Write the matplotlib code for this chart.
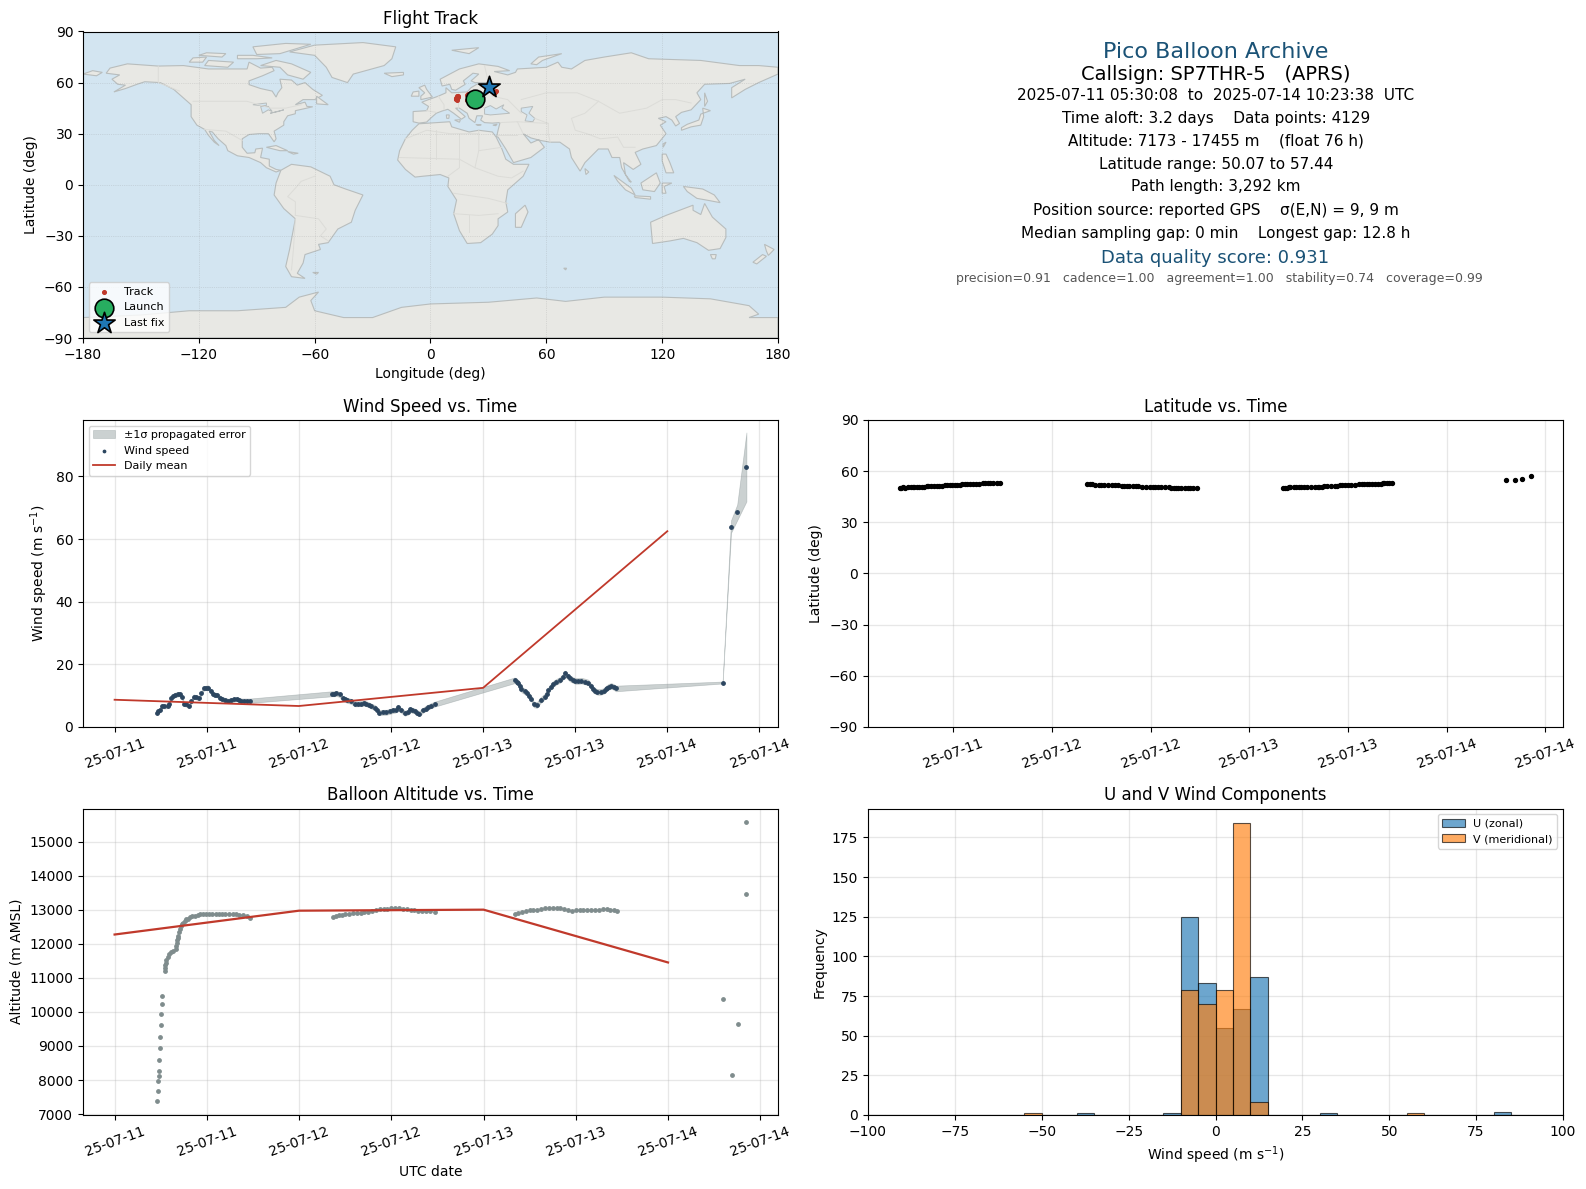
import numpy as np
import pandas as pd
import matplotlib
matplotlib.use("Agg")
import matplotlib.pyplot as plt
import matplotlib.dates as mdates
from matplotlib.patches import Polygon

W, H = 1586, 1189
START = pd.Timestamp("2025-07-11 00:00:00")

# hours since 07-11 00:00
seg1_t = [5.5,5.7,5.9,6.2,6.5,6.9,7.1,7.3,7.6,7.9,8.2,8.5,8.8,9.0,9.3,9.7,10.0,10.3,10.6,11.0,
          11.3,11.6,11.9,12.2,12.5,12.8,13.1,13.4,13.7,14.0,14.4,14.8,15.2,15.6,15.9,16.2,16.5,16.9,17.3,17.7]
seg1_ws = [4.5,5.0,5.4,6.7,6.6,6.7,7.4,9.1,9.8,10.3,10.4,10.5,9.5,7.4,7.2,6.7,8.2,9.7,9.5,9.2,
           10.8,12.3,12.5,12.6,11.5,10.5,10.3,10.1,9.4,8.9,8.6,8.3,8.5,8.8,8.9,8.6,8.4,8.4,8.4,8.4]
seg1_lat = [50.4,50.4,50.5,50.4,50.5,50.6,50.6,50.7,50.8,50.9,51.0,50.9,51.1,51.2,51.2,51.4,51.4,51.3,51.5,51.6,
            51.7,51.8,51.7,51.9,52.0,52.1,52.2,52.2,52.4,52.5,52.6,52.6,52.7,52.8,52.8,52.8,52.9,52.9,52.9,52.9]

seg2_t = [28.3,28.6,28.9,29.3,29.7,30.0,30.3,30.8,31.3,31.7,32.1,32.5,32.8,33.1,33.4,33.9,34.2,34.5,35.0,35.4,
          35.9,36.3,36.6,36.9,37.3,37.8,38.2,38.5,38.8,39.1,39.4,39.7,40.2,40.5,40.8,41.2,41.7]
seg2_ws = [10.6,10.6,10.7,10.4,9.1,8.8,8.5,8.2,7.4,7.4,7.5,7.6,7.4,7.1,6.7,6.2,5.5,4.6,4.7,4.7,
           5.0,5.3,5.4,6.3,5.4,4.4,4.7,5.6,5.3,5.1,4.6,4.3,5.4,5.9,6.3,6.8,7.3]
seg2_lat = [52.4,52.3,52.2,52.0,52.0,51.9,51.8,51.8,51.7,51.6,51.6,51.5,51.5,51.4,51.3,51.2,51.2,51.1,51.0,51.0,
            50.9,50.9,50.8,50.8,50.6,50.6,50.5,50.4,50.4,50.3,50.3,50.2,50.2,50.1,50.1,50.1,50.1]

seg3_t = [52.1,52.4,52.6,52.8,53.0,53.4,53.7,54.0,54.3,54.6,55.0,55.5,56.0,56.3,56.5,56.8,57.1,57.5,58.0,58.4,
          58.7,59.0,59.3,59.7,60.0,60.4,60.8,61.3,61.7,62.0,62.3,62.6,62.9,63.3,63.7,64.0,64.2,64.4,64.7,65.0,65.3]
seg3_ws = [14.9,14.5,14.0,13.0,12.0,11.4,10.9,10.0,9.0,7.2,7.0,8.6,9.7,10.6,11.8,12.8,13.7,14.4,15.0,16.0,
           17.1,16.2,15.5,15.0,14.7,14.7,14.8,14.5,14.2,13.2,12.0,11.5,11.2,11.2,11.5,12.2,12.6,12.9,13.1,12.8,12.3]
seg3_lat = [50.2,50.3,50.4,50.5,50.5,50.5,50.6,50.6,50.6,50.6,50.7,50.7,50.7,50.8,50.9,51.0,51.1,51.1,51.2,51.4,
            51.5,51.6,51.8,51.8,51.9,51.9,52.0,52.2,52.2,52.3,52.4,52.4,52.5,52.6,52.7,52.7,52.8,52.9,53.0,53.0,53.1]

end_t = [79.2,80.3,81.1,82.3]
end_ws = [14.2,64.0,68.5,83.0]
end_lat = [54.8,55.0,55.6,57.44]

# one sigma for each stretch
seg1_err = 0.7
seg2_err = 0.8
seg3_err = 0.9
end_err = [0.3,2.0,2.5,11.0]

# altitude panel has its own samples
alt_t = [5.48,5.6,5.6,5.74,5.74,5.74,5.87,5.87,6.0,6.0,6.13,6.13,
         6.5,6.55,6.6,6.65,6.75,6.9,7.1,7.3,7.6,7.96,8.0,8.1,8.15,8.2,8.26,8.35,8.5,8.6,8.75,8.87,9.1,9.3,9.5,9.8,10.1,10.4,
         10.8,11.1,11.5,11.9,12.3,12.7,13.2,13.6,14.0,14.4,14.9,15.4,15.8,16.2,16.7,17.2,17.65,
         28.4,28.8,29.2,29.6,30.0,30.5,31.0,31.5,32.0,32.5,33.0,33.5,34.0,34.5,35.0,35.5,36.0,36.5,37.0,37.5,38.0,38.5,39.0,39.5,40.0,40.5,41.0,41.7,
         52.1,52.5,53.0,53.5,54.0,54.5,55.0,55.5,56.0,56.5,57.0,57.5,58.0,58.5,59.0,59.5,60.0,60.5,61.0,61.5,62.0,62.5,63.0,63.5,64.0,64.5,65.0,65.3,
         79.2,80.3,81.1,82.2,82.1]
alt_m = [7382,7676,7970,8118,8265,8588,8941,9265,9618,9941,10235,10470,
         11206,11300,11370,11441,11530,11618,11690,11745,11800,11853,11930,12030,12110,12170,12225,12330,12441,12520,12580,12618,12680,12715,12735,12780,12800,12814,
         12850,12865,12873,12880,12860,12870,12873,12880,12860,12870,12880,12873,12860,12850,12833,12800,12765,
         12775,12800,12830,12850,12870,12880,12900,12900,12910,12920,12930,12950,12990,13010,13020,13030,13040,13040,13040,13030,13010,13000,12990,12970,12960,12950,12950,12940,
         12870,12890,12920,12950,12980,12990,12990,13020,13040,13050,13060,13050,13050,13030,13000,12970,12980,12990,13000,12990,12990,13000,13000,13010,13010,13000,12980,12960,
         10380,8150,9650,13460,15560]

# daily means sit on the midnight ticks
mean_t = [0,24,48,72]
mean_ws = [8.7,6.7,12.5,62.5]
mean_alt = [12270,12970,13000,11450]

# 5 m/s bins
bin_edges = list(range(-100,105,5))
u_counts = {-40:1,-15:1,-10:125,-5:83,0:55,5:67,10:87,30:1,80:2}
v_counts = {-55:1,-10:79,-5:70,0:79,5:184,10:8,55:1}

track_lon = [13.0,13.4,13.8,14.0,14.2,13.6,13.2,13.5,19.0,19.0,19.4,20.2,33.4,33.0,33.8]
track_lat = [50.2,50.6,51.1,51.6,52.1,52.3,51.0,50.0,53.0,49.6,53.3,52.8,54.5,54.0,55.0]
launch_lon, launch_lat = 23.0, 50.1
last_lon, last_lat = 30.5, 57.44

land = [
    # North America
    [(-168,65.5),(-166,68.5),(-157,71),(-141,69.7),(-128,70),(-115,68),(-108,68),(-95,68),(-94,72),(-88,68.5),(-82,69),(-81,67),(-87,64),(-94,61),(-94,58.8),(-88,56.5),(-82,55),(-80,51.5),(-79,54),(-77,57),(-78,62),(-72,61.5),(-69,58.5),(-65,60),(-61,56),(-56,52.5),(-60,50),(-66,50),(-70,47),(-65,48.5),(-64,46),(-61,45.8),(-66,44.5),(-70,43.5),(-70,41.7),(-74,40.5),(-76,37),(-76,35),(-81,31.5),(-80,27),(-81,25.2),(-82.7,28),(-84,30),(-89,30),(-94,29.5),(-97.5,27),(-97.5,22),(-95,18.5),(-91,18.8),(-90.5,21),(-87,21.5),(-88,16),(-83.5,15),(-83.5,11),(-80,9),(-77.5,8.5),(-80,7.5),(-85,10),(-88,13),(-94,16),(-100,17),(-105,20),(-106,23),(-110,27),(-113,31),(-114.7,31.5),(-112,26),(-109.5,23),(-112,25),(-115,29),(-117,32.5),(-121,35),(-124,40),(-124,47),(-128,51),(-133,56),(-140,60),(-148,60.5),(-152,59),(-158,56.5),(-164,54.5),(-158,58.5),(-162,59),(-165,62),(-161,64.5)],
    # Greenland and the arctic islands
    [(-73,78),(-60,82),(-35,83.5),(-18,81),(-20,74),(-24,70),(-40,65),(-43,60),(-51,63),(-54,69),(-60,76)],
    [(-80,73),(-72,71),(-62,66),(-66,62),(-74,64.5),(-78,69),(-88,70)],
    [(-117,70),(-105,69),(-102,72),(-115,73)],
    [(-90,76.5),(-78,77),(-62,82.5),(-75,83),(-92,81)],
    [(-125,72),(-118,72),(-116,75),(-123,74.5)],
    [(-100,74),(-90,74),(-82,74.5),(-92,76),(-100,76)],
    [(-120,76),(-108,75),(-106,77),(-116,77.5)],
    # South America
    [(-77.5,8.5),(-72,12),(-62,10.5),(-52,5),(-50,0),(-44,-2.5),(-35,-6),(-39,-15),(-41,-22),(-48,-26),(-53,-34),(-58,-35),(-57,-38),(-65,-41),(-66,-46),(-69,-52),(-65,-55),(-72,-54),(-75,-48),(-73,-38),(-70,-20),(-76,-14),(-81,-6),(-80,1)],
    # Africa
    [(-6,35.8),(10,37),(11,34),(20,31),(25,32),(32,31),(34,28),(37,21),(39,15),(43,12),(51,12),(48,5),(40,-3),(39,-10),(40,-16),(35,-20),(35,-24),(32,-29),(26,-34),(19,-34.5),(15,-27),(12,-17),(13.5,-9),(9,-1),(9.5,4),(5,6),(-4,5),(-8,4.5),(-13,9),(-17,14.5),(-16,20),(-13,27),(-9.5,32)],
    # Eurasia
    [(-9,37),(-6,36.2),(-2,36.8),(0,39),(3,42),(6,43.3),(9,44.3),(12,42),(16,38.5),(18,40),(13,45),(15,45),(19,42),(20,39),(23,36.5),(24,40.5),(27,40.5),(26,38),(28,36.5),(32,36.2),(36,36.5),(35,32),(34.2,28),(35,28),(39,21),(43,13),(52,16),(59,22),(56,26.5),(52,24.5),(48,30),(52,27.5),(57,26),(62,25),(67,25),(72,21),(73,16),(77.5,8),(80,13),(87,21),(92,21),(94,16),(98,16),(99,10),(103,2),(104,1.5),(101,6),(100,13),(105,9),(109,12),(106,19),(110,21),(117,23),(122,30),(119,35),(122,37),(118,39),(122,40),(125,38),(127,34.5),(129,36),(127,40),(130,42.5),(135,44),(140,50),(138,54),(142,59),(155,59.5),(163,62),(156,57),(156,51),(163,56),(170,60),(180,65),(180,69),(170,70),(160,70),(140,73),(113,74),(104,77.5),(90,75),(80,73),(73,68),(68,69),(66,72),(60,69),(45,68),(44,66),(40,64.5),(33,66.5),(41,67),(35,69.5),(25,71),(15,68),(5,62),(6,58),(10,59),(11,56),(13,55.5),(18,59),(17,61),(22,65.5),(25,65),(21,61),(23,60),(30,60),(24,59),(21,57),(19,54.5),(11,54),(8,57),(8,54),(4,52),(-1,50),(-4.5,48.5),(-1,46),(-2,43.5),(-9,43)],
    [(-180,65),(-175,67),(-170,66),(-173,64)],
    # Australia and the islands
    [(114,-22),(122,-18),(129,-15),(136,-12),(136,-15),(140,-17.5),(142,-11),(146,-19),(153,-26),(153,-31),(150,-37.5),(144,-38.5),(138,-34),(131,-31.5),(124,-33),(115,-34.5)],
    [(145,-41),(148,-41),(147.5,-43.5),(146,-43.5)],
    [(173,-35),(178,-38),(175,-41.5),(174,-39)],
    [(172,-41),(174,-42),(169,-46.5),(167,-45.5)],
    [(131,-1),(141,-2.5),(147,-6),(150,-10.5),(143,-9),(138,-8),(133,-4)],
    [(109,1),(117,7),(119,1),(116,-4),(110,-3)],
    [(95,5.5),(104,-2),(106,-6),(101,-3),(97,2)],
    [(105.5,-6.5),(114,-7),(114,-8.5),(106,-7.5)],
    [(120,1),(125,1),(121,-1),(122,-5),(120,-5)],
    [(120,18),(122,18),(124,13),(126,7),(122,7),(120,14)],
    [(130,32),(135,34),(140,35),(141.5,40),(141,45),(145,43.5),(140,41.5),(139,38),(133,35.5),(130,33.5)],
    [(142,54),(143.5,49),(142,46),(142,50)],
    [(120.5,22),(122,25),(120.5,24)],
    [(80,9.5),(82,7.5),(80.5,6)],
    [(49,-12),(50.5,-16),(47,-25),(44,-25),(44,-17)],
    [(-5,50),(1,51.5),(-2,56),(-3,58.5),(-6,57),(-3,54),(-5,52)],
    [(-10,52),(-6,52),(-6,55),(-9,54.5)],
    [(-24,65.5),(-14,66),(-14,64.5),(-20,63.5)],
    [(-85,22),(-80,23),(-74,20),(-78,20)],
    [(-74,19.5),(-68.5,18.5),(-71,18)],
    [(11,79),(25,80.5),(20,77)],
    [(52,71),(56,75),(68,77),(58,73),(55,70.5)],
    [(-59,52),(-53,47),(-59,47.5)],
    [(-61,-51.5),(-58,-51.5),(-59,-52.5)],
    [(69,-49),(70.5,-49),(70,-50)],
    # Mediterranean islands
    [(8.2,41),(9.7,41),(9.5,39),(8.4,39)],
    [(12.5,38),(15.5,38.2),(15,36.7)],
    [(23.5,35.4),(26.3,35.2),(24.5,34.9)],
    [(32.3,35),(34.5,35.6),(33.8,34.7)],
    [(-180,-78),(-150,-76.5),(-125,-74),(-100,-74),(-75,-72),(-68,-66),(-58,-63),(-62,-68),(-60,-74),(-45,-78),(-30,-78),(-15,-72),(0,-70),(30,-69),(55,-66.5),(70,-68.5),(90,-66),(120,-66),(145,-67),(165,-71),(170,-76),(165,-78),(180,-78),(180,-90),(-180,-90)],
]
inland_water = [
    [(28,41.5),(28,45),(31,46.5),(34,44.5),(38,47),(37,45),(41,42),(36,41.5),(31,41)],
    [(47,45),(53,46),(51,42),(54,39),(53,37),(49,37.5),(50,41),(47,43)],
    [(-92,47),(-85,48),(-85,46.5),(-88,46.5)],
    [(-88,46),(-84,46),(-82,43),(-84,44),(-87,42)],
    [(-83,42),(-76,44),(-79,43)],
]
borders = [
    [(-141,69.7),(-141,60),(-130,55)],[(-123,49),(-95,49),(-83,45),(-75,45),(-67,47)],[(-117,32.5),(-106,31.5),(-97.5,26)],
    [(-70,-18),(-58,-20),(-54,-26),(-57,-30),(-53,-33)],[(-70,-18),(-70,-10),(-74,-7),(-70,-2),(-67,2),(-60,5)],[(-70,-20),(-71,-38),(-72,-50)],
    [(-13,27),(-2,32),(10,30),(25,30)],[(25,32),(25,20),(37,22)],[(25,20),(23,10),(35,5),(42,4),(48,8)],[(-16,16),(15,15),(23,10)],
    [(9,5),(15,10),(15,15)],[(12,-5),(30,-8),(40,-11)],[(12,-17),(25,-18),(35,-17)],[(20,-18),(20,-28)],[(3,32),(3,15)],[(15,15),(15,30)],
    [(-2,43.5),(3,42.5)],[(4,52),(7,47),(7,44)],[(14,54),(14,45)],[(24,54),(23,48),(28,45)],[(28,70),(30,60)],[(30,60),(32,52),(40,50),(47,42)],
    [(47,50),(60,54),(76,54),(87,49)],[(87,49),(80,42),(73,39),(75,32),(81,30),(88,27),(97,28),(100,22),(106,22)],
    [(87,49),(98,42),(112,45),(120,50),(127,50),(135,48)],[(54,39),(61,36),(61,30),(62,25)],[(36,36.5),(45,37),(48,30)],[(45,37),(61,36)],[(45,29),(35,29)],
]

plt.rcParams['font.family'] = 'DejaVu Sans'


def hours(values):
    return START + pd.to_timedelta(np.array(values, dtype=float), unit='h')


def box(left, top, right, bottom):
    return [left/W, 1-bottom/H, (right-left)/W, (bottom-top)/H]


def date_axis(ax):
    ax.xaxis.set_major_locator(mdates.HourLocator(byhour=[0, 12]))
    ax.xaxis.set_major_formatter(mdates.DateFormatter('%y-%m-%d'))
    ax.tick_params(axis='x', labelrotation=20)
    ax.grid(True, color='#b0b0b0', alpha=0.3, lw=0.9)
    ax.set_axisbelow(True)


fig = plt.figure(figsize=(W/100, H/100), dpi=100)
ax_map = fig.add_axes(box(83, 31.5, 778, 338))
ax_ws = fig.add_axes(box(83, 420, 778, 727))
ax_lat = fig.add_axes(box(868, 420, 1563, 727))
ax_alt = fig.add_axes(box(83, 808.5, 778, 1115))
ax_hist = fig.add_axes(box(868, 808.5, 1563, 1115))

# -----------------------------
# Flight track
# -----------------------------
ax_map.set_facecolor('#d3e5f1')
for pts in land:
    ax_map.add_patch(Polygon(pts, closed=True, fc='#e8e8e4', ec='#b8bdbd', lw=0.8, zorder=1))
for pts in inland_water:
    ax_map.add_patch(Polygon(pts, closed=True, fc='#d3e5f1', ec='#b8bdbd', lw=0.7, zorder=1.1))
for pts in borders:
    ax_map.plot([p[0] for p in pts], [p[1] for p in pts], color='#dcdcd8', lw=0.7, zorder=1.2)
ax_map.scatter(track_lon, track_lat, s=7, color='#c0392b', zorder=3, label='Track')
ax_map.scatter(launch_lon, launch_lat, s=180, color='#27ae60', edgecolors='k', lw=1.2, zorder=4, label='Launch')
ax_map.scatter(last_lon, last_lat, s=260, marker='*', color='#1f77b4', edgecolors='k', lw=1.2, zorder=5, label='Last fix')
ax_map.set_xlim(-180, 180)
ax_map.set_ylim(-90, 90)
ax_map.set_xticks(range(-180, 181, 60))
ax_map.set_yticks(range(-90, 91, 30))
ax_map.xaxis.set_major_formatter(lambda v, p: f"{int(v)}".replace('-', '\u2212'))
ax_map.yaxis.set_major_formatter(lambda v, p: f"{int(v)}".replace('-', '\u2212'))
ax_map.grid(True, color='gray', alpha=0.35, lw=0.5, ls=':', zorder=2)
ax_map.set_xlabel('Longitude (deg)')
ax_map.set_ylabel('Latitude (deg)')
ax_map.set_title('Flight Track', fontsize=12, pad=5.5)
ax_map.legend(loc='lower left', fontsize=8)

# -----------------------------
# Header text
# -----------------------------
cx = 1216/W
fig.text(cx, 1-52.5/H, 'Pico Balloon Archive', ha='center', va='center', fontsize=16, color='#1a5276')
fig.text(cx, 1-74/H, 'Callsign: SP7THR-5   (APRS)', ha='center', va='center', fontsize=14)
info_y = [95, 118, 141, 164, 187, 210, 233.5]
info_lines = ['2025-07-11 05:30:08  to  2025-07-14 10:23:38  UTC',
              'Time aloft: 3.2 days    Data points: 4129',
              'Altitude: 7173 - 17455 m    (float 76 h)',
              'Latitude range: 50.07 to 57.44',
              'Path length: 3,292 km',
              'Position source: reported GPS    \u03c3(E,N) = 9, 9 m',
              'Median sampling gap: 0 min    Longest gap: 12.8 h']
for y, line in zip(info_y, info_lines):
    fig.text(cx, 1-y/H, line, ha='center', va='center', fontsize=11)
fig.text(1215/W, 1-258/H, 'Data quality score: 0.931', ha='center', va='center', fontsize=13, color='#1a5276')
fig.text(1219/W, 1-278.5/H, 'precision=0.91   cadence=1.00   agreement=1.00   stability=0.74   coverage=0.99',
         ha='center', va='center', fontsize=9, color='#555555')

# -----------------------------
# Wind speed
# -----------------------------
ws_t = seg1_t + seg2_t + seg3_t + end_t
ws = np.array(seg1_ws + seg2_ws + seg3_ws + end_ws)
err = np.array([seg1_err]*len(seg1_t) + [seg2_err]*len(seg2_t) + [seg3_err]*len(seg3_t) + end_err)
ax_ws.fill_between(hours(ws_t), ws-err, ws+err, color='#7f8c8d', alpha=0.4, lw=0.5, label='\u00b11\u03c3 propagated error')
ax_ws.scatter(hours(ws_t), ws, s=6, color='#2c4660', zorder=3, label='Wind speed')
ax_ws.plot(hours(mean_t), mean_ws, color='#c0392b', lw=1.3, zorder=4, label='Daily mean')
ax_ws.set_ylim(0, 98)
ax_ws.set_ylabel('Wind speed (m s$^{-1}$)')
ax_ws.set_title('Wind Speed vs. Time', fontsize=12)
ax_ws.legend(loc='upper left', fontsize=8, markerscale=0.7)
date_axis(ax_ws)

# -----------------------------
# Latitude
# -----------------------------
lat_vals = seg1_lat + seg2_lat + seg3_lat + end_lat
ax_lat.scatter(hours(ws_t), lat_vals, s=8, color='k')
ax_lat.set_ylim(-90, 90)
ax_lat.set_yticks(range(-90, 91, 30))
ax_lat.set_ylabel('Latitude (deg)')
ax_lat.set_title('Latitude vs. Time', fontsize=12)
date_axis(ax_lat)

# -----------------------------
# Altitude
# -----------------------------
ax_alt.scatter(hours(alt_t), alt_m, s=6, color='#7f8c8d', zorder=3)
ax_alt.plot(hours(mean_t), mean_alt, color='#c0392b', lw=1.6, zorder=4)
ax_alt.set_yticks(range(7000, 15001, 1000))
ax_alt.set_ylabel('Altitude (m AMSL)')
ax_alt.set_xlabel('UTC date')
ax_alt.set_title('Balloon Altitude vs. Time', fontsize=12)
date_axis(ax_alt)

# -----------------------------
# Wind component histogram
# -----------------------------
lefts = np.array(bin_edges[:-1])
u_heights = [u_counts.get(int(b), 0) for b in lefts]
v_heights = [v_counts.get(int(b), 0) for b in lefts]
ax_hist.bar(lefts, u_heights, width=5, align='edge', color='#1f77b4', alpha=0.65, edgecolor='k', lw=0.8, label='U (zonal)')
ax_hist.bar(lefts, v_heights, width=5, align='edge', color='#ff7f0e', alpha=0.65, edgecolor='k', lw=0.8, label='V (meridional)')
ax_hist.set_xlim(-100, 100)
ax_hist.set_xlabel('Wind speed (m s$^{-1}$)')
ax_hist.set_ylabel('Frequency')
ax_hist.set_title('U and V Wind Components', fontsize=12)
ax_hist.grid(True, color='#b0b0b0', alpha=0.3, lw=0.9)
ax_hist.set_axisbelow(True)
ax_hist.legend(loc='upper right', fontsize=8)

fig.savefig('out.png', dpi=100)
